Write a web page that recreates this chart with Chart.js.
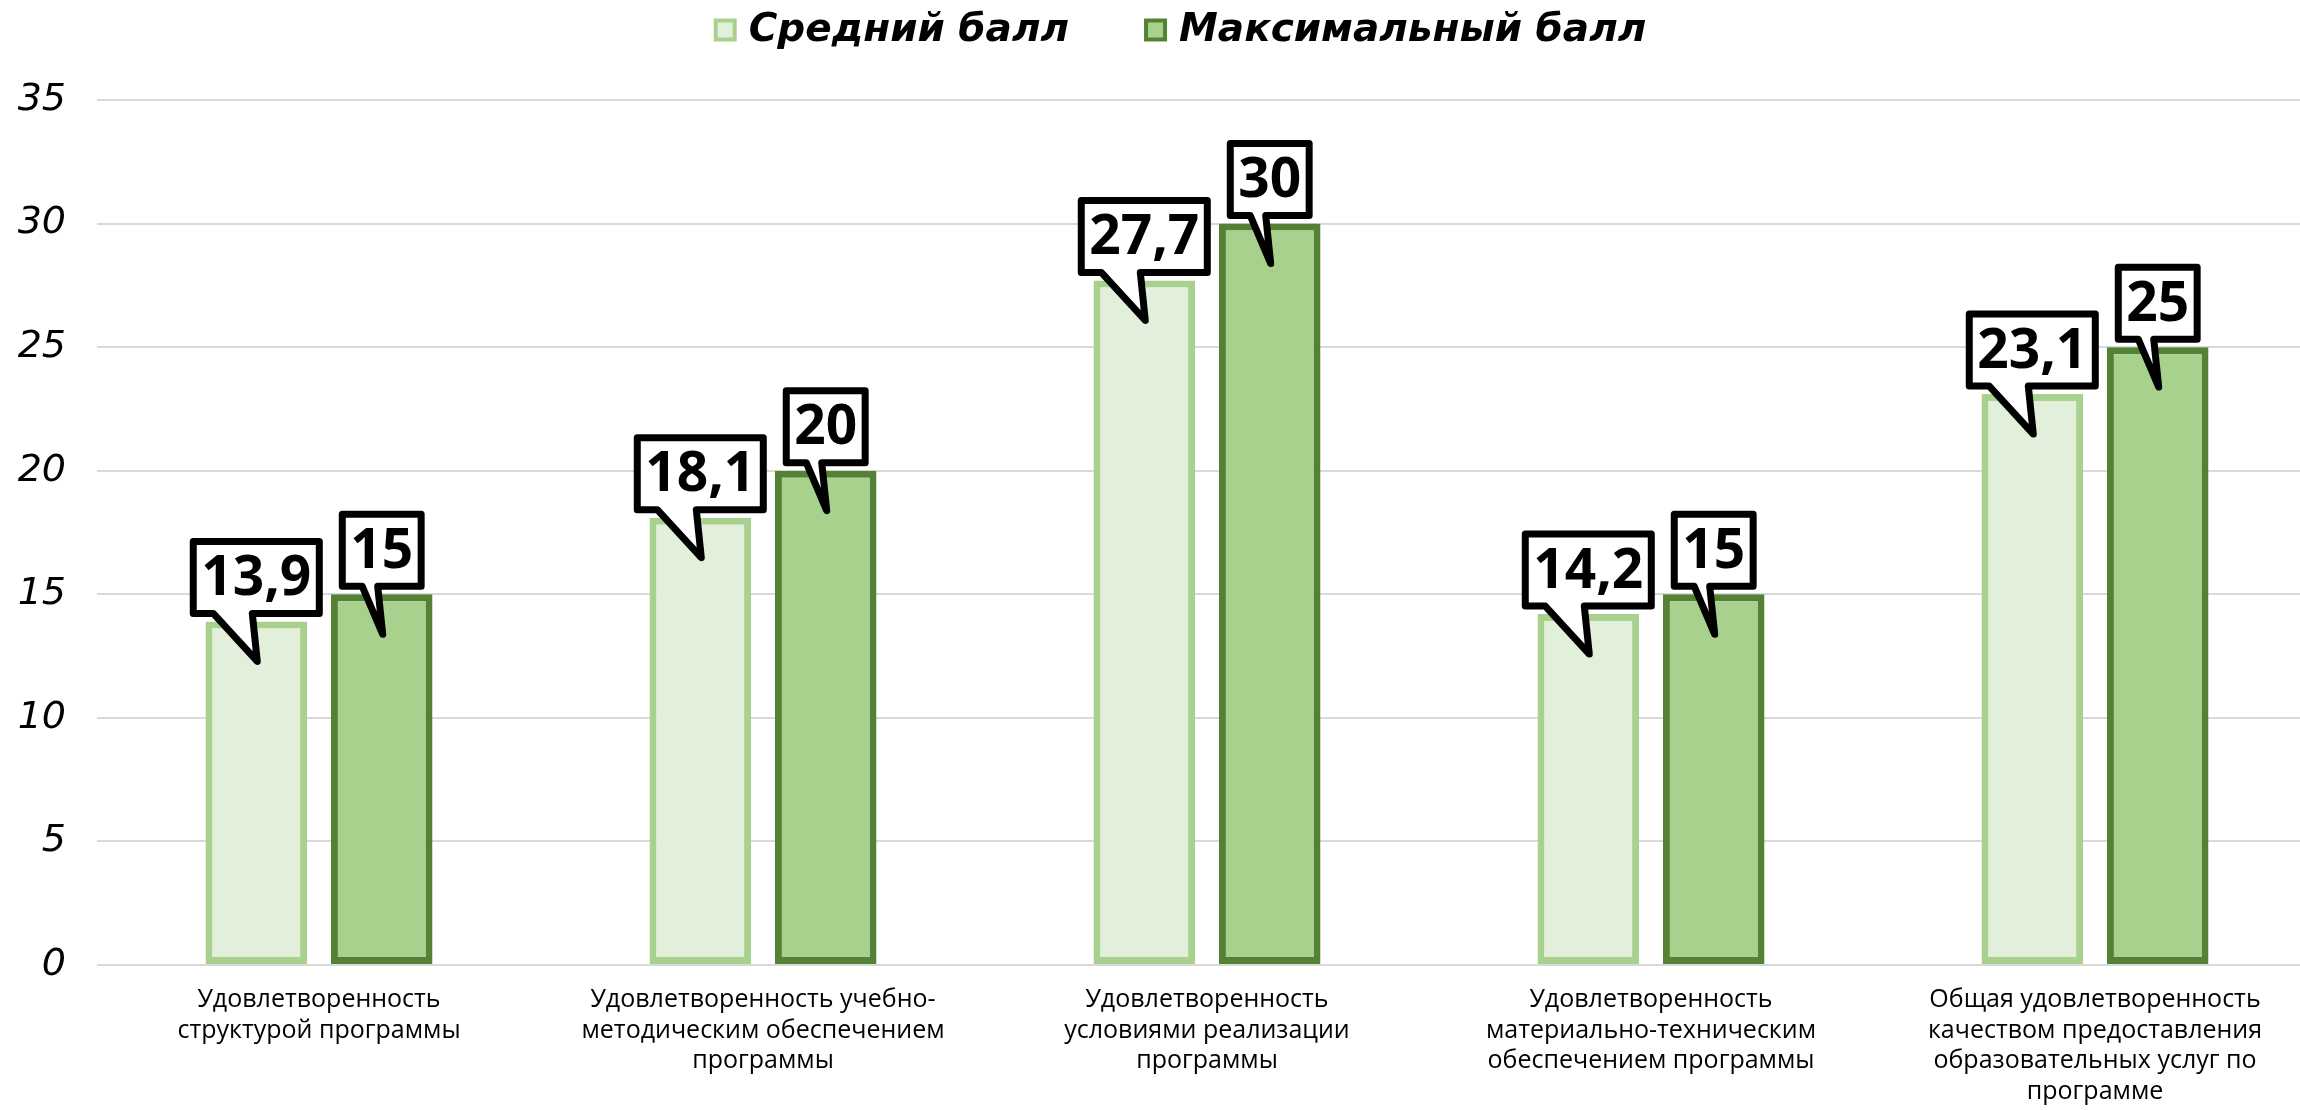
<!DOCTYPE html>
<html>
<head>
<meta charset="utf-8">
<script src="https://cdn.jsdelivr.net/npm/chart.js@4.4.1/dist/chart.umd.min.js"></script>
<style>
  html, body { margin: 0; padding: 0; background: #ffffff; overflow: hidden; }
  #wrap { width: 2300px; height: 1110px; overflow: hidden; position: relative; }
  #c { display: block; }
</style>
</head>
<body>
<div id="wrap"><canvas id="c" width="2320" height="1110"></canvas></div>
<script>
const categories = [
  ["Удовлетворенность", "структурой программы"],
  ["Удовлетворенность учебно-", "методическим обеспечением", "программы"],
  ["Удовлетворенность", "условиями реализации", "программы"],
  ["Удовлетворенность", "материально-техническим", "обеспечением программы"],
  ["Общая удовлетворенность", "качеством предоставления", "образовательных услуг по", "программе"]
];
const seriesNames = ["Средний балл", "Максимальный балл"];
const avgScores = [13.9, 18.1, 27.7, 14.2, 23.1];
const maxScores = [15, 20, 30, 15, 25];
const yTicks = [0, 5, 10, 15, 20, 25, 30, 35];

const LIGHT_FILL = "#e2efda";
const MID_GREEN = "#a9d18e";
const DARK_GREEN = "#548235";

const calloutPlugin = {
  id: "callouts",
  afterDatasetsDraw(chart) {
    const ctx = chart.ctx;
    ctx.save();
    ctx.font = "700 55px 'Open Sans'";
    ctx.textAlign = "center";
    ctx.textBaseline = "middle";
    chart.data.datasets.forEach((ds, di) => {
      const meta = chart.getDatasetMeta(di);
      meta.data.forEach((bar, i) => {
        const v = ds.data[i];
        const label = String(v).replace(".", ",");
        const cx = bar.x;
        const top = bar.y;
        const tw = ctx.measureText(label).width;
        const w = tw + 16;
        const h = 72;
        const bottom = top - 8;
        const left = cx - w / 2;
        const right = cx + w / 2;
        const boxTop = bottom - h;
        const tailL = left + 20;
        const tailR = cx - 4;
        const tipX = cx + 1;
        const tipY = top + 40;
        ctx.beginPath();
        ctx.moveTo(left, boxTop);
        ctx.lineTo(right, boxTop);
        ctx.lineTo(right, bottom);
        ctx.lineTo(tailR, bottom);
        ctx.lineTo(tipX, tipY);
        ctx.lineTo(tailL, bottom);
        ctx.lineTo(left, bottom);
        ctx.closePath();
        ctx.fillStyle = "#ffffff";
        ctx.fill();
        ctx.lineWidth = 7;
        ctx.lineJoin = "round";
        ctx.strokeStyle = "#000000";
        ctx.stroke();
        ctx.fillStyle = "#000000";
        ctx.fillText(label, cx, boxTop + h / 2 + 2);
      });
    });
    ctx.restore();
  }
};

const legendPlugin = {
  id: "customLegend",
  afterDraw(chart) {
    const ctx = chart.ctx;
    ctx.save();
    ctx.font = "italic bold 39px 'DejaVu Sans'";
    ctx.textBaseline = "middle";
    ctx.textAlign = "left";
    const box = 23, gap = 12, spacing = 75;
    const items = chart.data.datasets.map(ds => ({
      text: ds.label, fill: ds.backgroundColor, stroke: ds.borderColor,
      w: ctx.measureText(ds.label).width
    }));
    let total = 0;
    items.forEach((it, k) => { total += box + gap + it.w + (k ? spacing : 0); });
    let x = chart.width / 2 + 20 - total / 2;
    const cy = 30;
    items.forEach((it, k) => {
      if (k) x += spacing;
      ctx.fillStyle = it.fill;
      ctx.strokeStyle = it.stroke;
      ctx.lineWidth = 4;
      ctx.fillRect(x + 2, cy - box / 2 + 2, box - 4, box - 4);
      ctx.strokeRect(x + 2, cy - box / 2 + 2, box - 4, box - 4);
      x += box + gap;
      ctx.fillStyle = "#000000";
      ctx.fillText(it.text, x, cy + 1);
      x += it.w;
    });
    ctx.restore();
  }
};

function build() {
  new Chart(document.getElementById("c"), {
    type: "bar",
    data: {
      labels: categories,
      datasets: [
        {
          label: seriesNames[0],
          data: avgScores,
          backgroundColor: LIGHT_FILL,
          borderColor: MID_GREEN,
          borderWidth: 7,
          borderSkipped: false,
          categoryPercentage: 0.565,
          barPercentage: 0.81
        },
        {
          label: seriesNames[1],
          data: maxScores,
          backgroundColor: MID_GREEN,
          borderColor: DARK_GREEN,
          borderWidth: 7,
          borderSkipped: false,
          categoryPercentage: 0.565,
          barPercentage: 0.81
        }
      ]
    },
    options: {
      responsive: false,
      animation: false,
      layout: { padding: { left: 18, right: 3, top: 100, bottom: 3 } },
      plugins: {
        tooltip: { enabled: false },
        legend: { display: false }
      },
      scales: {
        x: {
          grid: { display: false },
          border: { display: false },
          afterFit(axis) { axis.height = 142; },
          ticks: {
            font: { family: "'Open Sans'", size: 25, lineHeight: 1.22 },
            color: "#000000",
            maxRotation: 0,
            autoSkip: false,
            padding: 12
          }
        },
        y: {
          min: 0,
          max: 35,
          afterBuildTicks(axis) { axis.ticks = yTicks.map(v => ({ value: v })); },
          afterFit(axis) { axis.width = 79; },
          grid: { color: "#d9d9d9", lineWidth: 2, drawTicks: false },
          border: { display: false },
          ticks: {
            font: { family: "'DejaVu Sans'", size: 38, style: "italic" },
            color: "#000000",
            padding: 31
          }
        }
      }
    },
    plugins: [calloutPlugin, legendPlugin]
  });
}

Promise.all([
  document.fonts.load("700 55px 'Open Sans'"),
  document.fonts.load("25px 'Open Sans'"),
  document.fonts.load("italic bold 39px 'DejaVu Sans'"),
  document.fonts.load("italic 38px 'DejaVu Sans'")
]).then(build, build);
</script>
</body>
</html>
